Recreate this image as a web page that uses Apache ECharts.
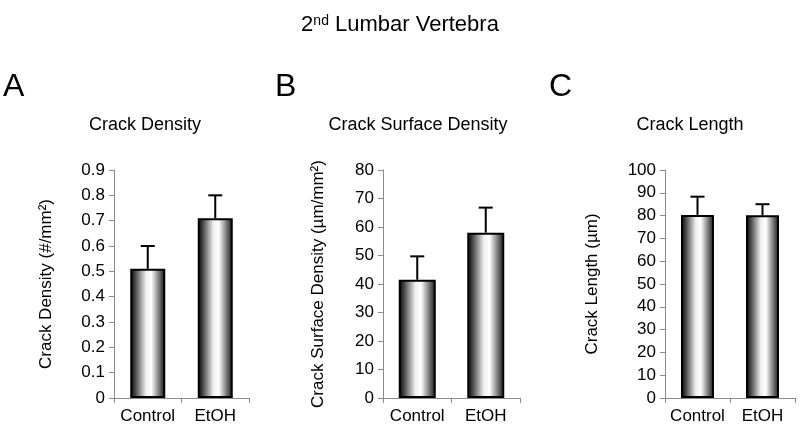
<!DOCTYPE html>
<html>
<head>
<meta charset="utf-8">
<script src="https://cdn.jsdelivr.net/npm/echarts@6/dist/echarts.min.js"></script>
<style>
  html, body { margin: 0; padding: 0; background: #fff; }
  #chart { width: 800px; height: 429px; }
</style>
</head>
<body>
<div id="chart"></div>
<script>
// data
const categories = ['Control', 'EtOH'];
const densityMean = [0.51, 0.71];
const densityErr = [0.09, 0.09];
const surfaceMean = [41.5, 58.0];
const surfaceErr = [8.2, 8.8];
const lengthMean = [80.3, 80.1];
const lengthErr = [8.0, 4.9];

const FONT = '"Liberation Sans", Arial, sans-serif';

const barFill = new echarts.graphic.LinearGradient(0, 0, 1, 0, [
    { offset: 0, color: '#000' },
    { offset: 0.12, color: '#3a3a3a' },
    { offset: 0.45, color: '#f0f0f0' },
    { offset: 0.6, color: '#fff' },
    { offset: 0.85, color: '#6a6a6a' },
    { offset: 1, color: '#111' },
])

const panels = [
    { left: 114, width: 135, max: 0.9, interval: 0.1, name: 'Crack Density (#/mm²)', gap: 59, mean: densityMean, err: densityErr, barWidth: 35 },
    { left: 383, width: 137, max: 80, interval: 10, name: 'Crack Surface Density (µm/mm²)', gap: 56, mean: surfaceMean, err: surfaceErr, barWidth: 37 },
    { left: 665, width: 130, max: 100, interval: 10, name: 'Crack Length (µm)', gap: 64, mean: lengthMean, err: lengthErr, barWidth: 33 },
]

const errorBar = (params, api) => {
    const x = api.value(0)
    const top = api.coord([x, api.value(1) + api.value(2)])
    const base = api.coord([x, api.value(1)])
    const half = 7
    const style = { stroke: '#000', lineWidth: 2 }
    return {
        type: 'group',
        children: [
            { type: 'line', shape: { x1: base[0], y1: base[1], x2: top[0], y2: top[1] }, style },
            { type: 'line', shape: { x1: top[0] - half, y1: top[1], x2: top[0] + half, y2: top[1] }, style },
        ],
    }
}

const axisGray = '#8c8c8c'

const option = {
    animation: false,
    backgroundColor: '#fff',
    textStyle: { fontFamily: FONT },
    title: {
        text: '{n|2}{s|nd}{n| Lumbar Vertebra}',
        left: 'center',
        top: 9,
        textStyle: {
            fontWeight: 'normal',
            rich: {
                n: { fontSize: 22, color: '#000', fontFamily: FONT, fontWeight: 'normal' },
                s: { fontSize: 14, color: '#000', fontFamily: FONT, fontWeight: 'normal', verticalAlign: 'top', lineHeight: 14 },
            },
        },
    },
    graphic: [
        { type: 'text', left: 3, top: 71, style: { text: 'A', fontSize: 32, fontFamily: FONT, fill: '#000' } },
        { type: 'text', left: 275, top: 71, style: { text: 'B', fontSize: 32, fontFamily: FONT, fill: '#000' } },
        { type: 'text', left: 549, top: 71, style: { text: 'C', fontSize: 32, fontFamily: FONT, fill: '#000' } },
        { type: 'text', x: 145, y: 116, style: { text: 'Crack Density', fontSize: 18, fontFamily: FONT, fill: '#000', align: 'center' } },
        { type: 'text', x: 418, y: 116, style: { text: 'Crack Surface Density', fontSize: 18, fontFamily: FONT, fill: '#000', align: 'center' } },
        { type: 'text', x: 690, y: 116, style: { text: 'Crack Length', fontSize: 18, fontFamily: FONT, fill: '#000', align: 'center' } },
    ],
    grid: panels.map((p) => ({ left: p.left, width: p.width, top: 170, height: 228 })),
    xAxis: panels.map((p, i) => ({
        type: 'category',
        gridIndex: i,
        data: categories,
        axisLine: { lineStyle: { color: axisGray, width: 1 } },
        axisTick: { show: true, length: 5, lineStyle: { color: axisGray } },
        axisLabel: { color: '#000', fontSize: 17, margin: 10, interval: 0, hideOverlap: false, fontFamily: FONT },
    })),
    yAxis: panels.map((p, i) => ({
        type: 'value',
        gridIndex: i,
        min: 0,
        max: p.max,
        interval: p.interval,
        name: p.name,
        nameLocation: 'middle',
        nameGap: p.gap,
        nameTextStyle: { color: '#000', fontSize: 17, fontFamily: FONT },
        axisLine: { show: true, lineStyle: { color: axisGray, width: 1 } },
        axisTick: { show: true, length: 5, lineStyle: { color: axisGray } },
        splitLine: { show: false },
        axisLabel: { color: '#000', fontSize: 17, margin: 9, fontFamily: FONT },
    })),
    series: panels.flatMap((p, i) => [
        {
            type: 'bar',
            xAxisIndex: i,
            yAxisIndex: i,
            data: p.mean,
            barWidth: p.barWidth,
            itemStyle: { color: barFill, borderColor: '#000', borderWidth: 2 },
        },
        {
            type: 'custom',
            xAxisIndex: i,
            yAxisIndex: i,
            renderItem: errorBar,
            data: p.mean.map((m, k) => [k, m, p.err[k]]),
            z: 3,
        },
    ]),
}

const chart = echarts.init(document.getElementById('chart'))
chart.setOption(option)
</script>
</body>
</html>
